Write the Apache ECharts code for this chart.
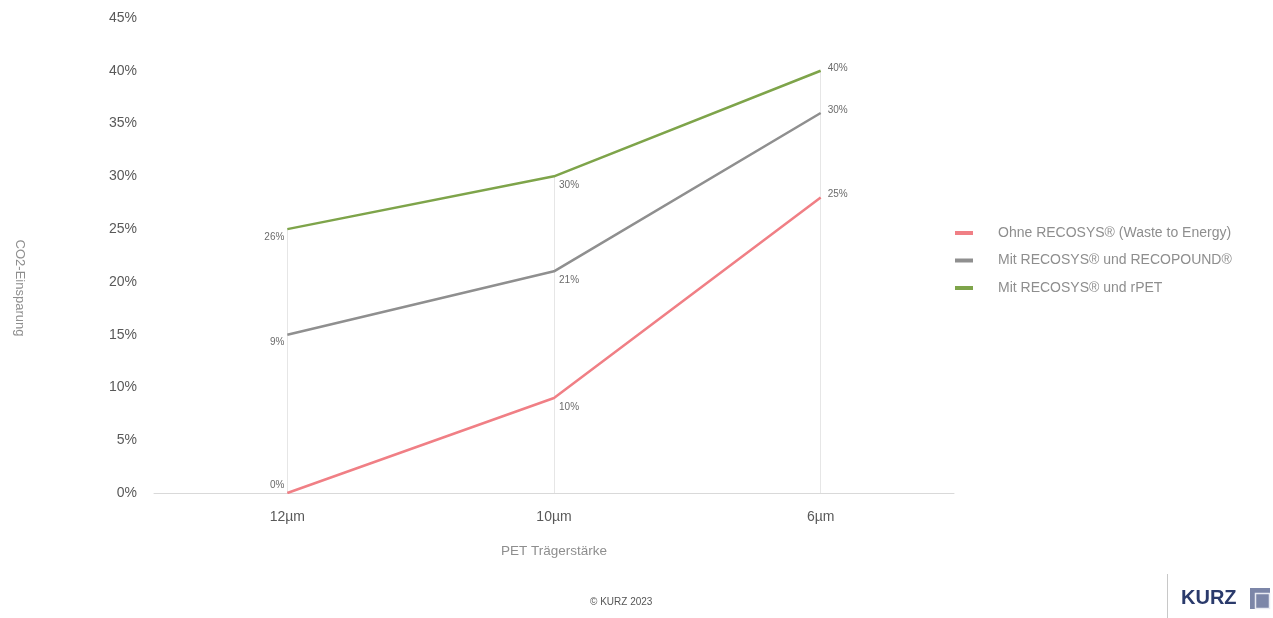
<!DOCTYPE html>
<html><head><meta charset="utf-8">
<script src="https://cdn.jsdelivr.net/npm/echarts@6/dist/echarts.min.js"></script>
<style>html,body{margin:0;padding:0;background:#fff}#c{width:1273px;height:618px}</style>
</head><body><div id="c"></div>
<script>
const categories = ['12µm', '10µm', '6µm'];
const seriesNames = ['Ohne RECOSYS® (Waste to Energy)', 'Mit RECOSYS® und RECOPOUND®', 'Mit RECOSYS® und rPET'];
const redValues = [0, 9, 28];
const greyValues = [15, 21, 36];
const greenValues = [25, 30, 40];
const redLabels = ['0%', '10%', '25%'];
const greyLabels = ['9%', '21%', '30%'];
const greenLabels = ['26%', '30%', '40%'];
const yTicks = [0, 5, 10, 15, 20, 25, 30, 35, 40, 45];

const font = 'Liberation Sans, Arial, sans-serif';
function labelCfg(i, isBottom) {
  if (i === 0) return { position: 'left', offset: [2, isBottom ? -8 : 8] };
  if (i === 1) return { position: 'right', offset: [0, 9] };
  return { position: 'right', offset: [2, -3] };
}
function build(values, labels, isBottom) {
  return values.map((v, i) => {
    const c = labelCfg(i, isBottom);
    return { value: v, label: { show: true, position: c.position, offset: c.offset, formatter: labels[i] } };
  });
}
function lineSeries(name, values, labels, color, isBottom, extra) {
  return Object.assign({
    name: name, type: 'line', data: build(values, labels, isBottom),
    symbol: 'circle', symbolSize: 0.01, showSymbol: true,
    lineStyle: { color: color, width: 2.5 }, itemStyle: { color: color },
    label: { show: true, fontSize: 10, color: '#6b6b6b', fontFamily: font },
    z: 3
  }, extra || {});
}
const dropData = categories.map((c, i) => [{ xAxis: c, yAxis: 0 }, { xAxis: c, yAxis: greenValues[i] }]);

const chart = echarts.init(document.getElementById('c'));
chart.setOption({
  backgroundColor: '#fff',
  animation: false,
  grid: { left: 154, right: 319, top: 18, bottom: 125 },
  legend: {
    orient: 'vertical', left: 950, top: 221, itemGap: 13.5,
    itemWidth: 18, itemHeight: 4, icon: 'rect',
    textStyle: { color: '#8e8e8e', fontSize: 14, fontFamily: font, padding: [0, 0, 0, 20] },
    data: seriesNames
  },
  xAxis: {
    type: 'category', data: categories, boundaryGap: true,
    axisLine: { lineStyle: { color: '#d9d9d9' } }, axisTick: { show: false },
    axisLabel: { color: '#595959', fontSize: 14, fontFamily: font, margin: 17 },
    name: 'PET Trägerstärke', nameLocation: 'middle', nameGap: 51,
    nameTextStyle: { color: '#8e8e8e', fontSize: 13.5, fontFamily: font },
    splitLine: { show: false }
  },
  yAxis: {
    type: 'value', min: 0, max: 45, interval: 5,
    axisLine: { show: false }, axisTick: { show: false }, splitLine: { show: false },
    axisLabel: { color: '#595959', fontSize: 14, fontFamily: font, margin: 17, formatter: v => v + '%' }
  },
  series: [
    lineSeries(seriesNames[0], redValues, redLabels, '#f07f85', true),
    lineSeries(seriesNames[1], greyValues, greyLabels, '#8f8f8f', false),
    lineSeries(seriesNames[2], greenValues, greenLabels, '#7ea44a', false, {
      markLine: { silent: true, symbol: 'none', label: { show: false },
        lineStyle: { color: '#e6e6e6', width: 1, type: 'solid' }, data: dropData, z: 1 }
    })
  ],
  graphic: [
    { type: 'text', x: 20, y: 288, rotation: -Math.PI / 2,
      style: { text: 'CO2-Einsparung', fill: '#8e8e8e', font: '13px ' + font, align: 'center', verticalAlign: 'middle' } },
    { type: 'text', left: 590, top: 597, style: { text: '© KURZ 2023', fill: '#555', font: '10px ' + font } },
    { type: 'rect', left: 1167, top: 574, shape: { width: 1, height: 44 }, style: { fill: '#c8c8c8' } },
    { type: 'text', left: 1181, top: 588, style: { text: 'KURZ', fill: '#2a3a6b', font: 'bold 20px ' + font } },
    { type: 'rect', left: 1250, top: 588, shape: { width: 20, height: 21 }, style: { fill: '#7c86a8' } },
    { type: 'rect', left: 1253, top: 591, shape: { width: 14, height: 15 }, style: { fill: 'none', stroke: '#e8eaf2', lineWidth: 1.5 } }
  ]
});
</script></body></html>
